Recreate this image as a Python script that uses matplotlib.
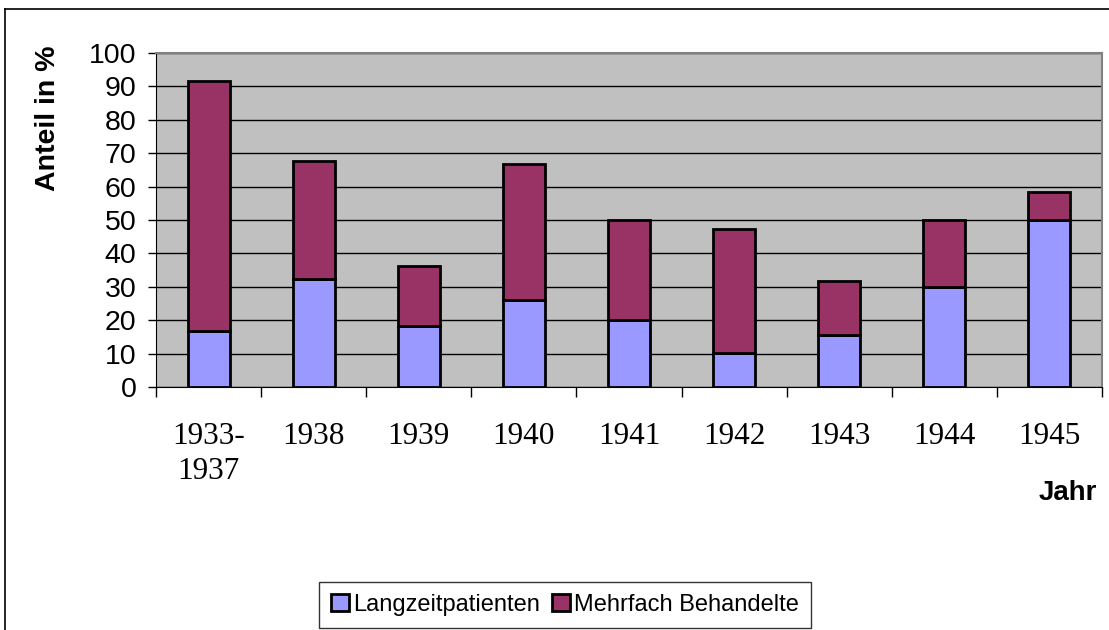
import matplotlib.pyplot as plt
import numpy as np
from matplotlib.lines import Line2D

# Data
#-----------------------------------------------------------
jahre = ['1933-\n1937', '1938', '1939', '1940', '1941', '1942', '1943', '1944', '1945']
langzeit = [16.7, 32.3, 18.2, 26.0, 20.0, 10.3, 15.7, 30.0, 50.0]
mehrfach = [75.0, 35.5, 18.0, 40.7, 30.0, 36.9, 15.9, 20.0, 8.3]
#-----------------------------------------------------------

sans = ['Liberation Sans', 'DejaVu Sans']
serif = ['Liberation Serif', 'DejaVu Serif']

fig = plt.figure(figsize=(11.09, 6.30), dpi=100)
W, H = 1109, 630
ax = fig.add_axes([156 / W, 1 - 387 / H, (1102 - 156) / W, (387 - 53) / H])

x = np.arange(len(jahre))
ax.set_facecolor('#C0C0C0')
ax.set_axisbelow(True)
ax.grid(axis='y', color='black', linewidth=1.0)

ax.bar(x, langzeit, width=0.4, color='#9999FF', edgecolor='black', linewidth=2,
       label='Langzeitpatienten', zorder=3)
ax.bar(x, mehrfach, width=0.4, bottom=langzeit, color='#993366', edgecolor='black',
       linewidth=2, label='Mehrfach Behandelte', zorder=3)

ax.set_xlim(-0.5, len(jahre) - 0.5)
ax.set_ylim(0, 100)
ax.set_yticks(range(0, 101, 10))
ax.set_yticklabels([str(v) for v in range(0, 101, 10)], family=sans, fontsize=20.5)
ax.tick_params(axis='y', direction='out', length=6, width=1, pad=8)

# category labels at centres, tick marks at category boundaries
ax.set_xticks(x)
ax.set_xticklabels(jahre, family=serif, fontsize=22.5, linespacing=1.3, va='top')
ax.tick_params(axis='x', which='major', length=0, pad=25)
ax.set_xticks(np.arange(-0.5, len(jahre), 1.0), minor=True)
ax.tick_params(axis='x', which='minor', direction='out', length=7, width=1)

for side in ['top', 'right']:
    ax.spines[side].set_color('#808080')
    ax.spines[side].set_linewidth(1.5)
ax.spines['left'].set_color('black')
ax.spines['bottom'].set_color('black')

fig.text(48 / W, 1 - 118 / H, 'Anteil in %', rotation=90, ha='center', va='center',
         family=sans, fontsize=20.5, fontweight='bold')
fig.text(1097 / W, 1 - 493 / H, 'Jahr', ha='right', va='center',
         family=sans, fontsize=20, fontweight='bold')

leg = fig.legend(loc='center', bbox_to_anchor=(565 / W, 1 - 605 / H), ncol=2,
                 prop={'family': sans, 'size': 17}, frameon=True, fancybox=False,
                 edgecolor='black', handlelength=0.75, handleheight=0.75,
                 handletextpad=0.2, columnspacing=0.5, borderpad=0.5,
                 borderaxespad=0)
leg.get_frame().set_linewidth(1)

# outer chart frame
fig.add_artist(Line2D([5 / W, 5 / W], [0, 1 - 9 / H], color='black', linewidth=1.2,
                      transform=fig.transFigure))
fig.add_artist(Line2D([5 / W, 1], [1 - 9 / H, 1 - 9 / H], color='black', linewidth=1.2,
                      transform=fig.transFigure))

fig.savefig('out.png', dpi=100)
